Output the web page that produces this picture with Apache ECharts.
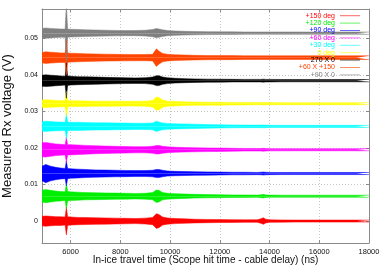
<!DOCTYPE html>
<html>
<head>
<meta charset="utf-8">
<script src="https://cdn.jsdelivr.net/npm/echarts@6/dist/echarts.min.js"></script>
<style>html,body{margin:0;padding:0;background:#fff}#c{width:382px;height:267px}</style>
</head>
<body>
<div id="c"></div>
<script>
// Sample times (ns) at which the envelope of each trace was read
const times = [4850, 5000, 5200, 5400, 5600, 5780, 5830, 5880, 6000, 6300, 6600, 7000, 7400, 7800, 8200, 8600, 9000, 9300, 9450, 9550, 9700, 9900, 10200, 10600, 11000, 11500, 12000, 12500, 13000, 13500, 13650, 13750, 13850, 14000, 14500, 15000, 15500, 16000, 16500, 17000, 17500, 18000];

// Trace names (legend order) and vertical offsets (V)
const names = ['+150 deg', '+120 deg', '+90 deg', '+60 deg', '+30 deg', '0 deg', '270 X 0', '+60 X +150', '+90 X 0'];
const offsets = [0, 0.0068, 0.0130, 0.0195, 0.0259, 0.0321, 0.0384, 0.0447, 0.0514];
const colors = ['#ff0000', '#00ee00', '#0000ff', '#ff00ff', '#00ffff', '#ffff00', '#000000', '#ff4500', '#808080'];

// Half peak-to-peak envelope of each trace, in mV, at the sample times
const ampRed     = [1.3,1.4,1.3,1.2,1.2,1.1,3.8,1.2,1.1,1.0,0.95,0.9,0.85,0.8,0.75,0.7,0.8,1.0,2.0,1.8,1.1,0.85,0.7,0.6,0.5,0.45,0.4,0.38,0.35,0.35,0.6,0.9,0.5,0.35,0.3,0.28,0.28,0.28,0.28,0.28,0.28,0.28];
const ampGreen   = [1.6,1.8,1.6,1.4,1.3,1.2,3.4,1.3,1.2,1.1,1.0,0.95,0.9,0.85,0.8,0.75,0.8,1.0,1.7,1.6,1.0,0.8,0.7,0.6,0.5,0.45,0.4,0.35,0.35,0.3,0.4,0.5,0.35,0.3,0.28,0.28,0.28,0.28,0.28,0.28,0.28,0.28];
const ampBlue    = [2.0,2.5,2.0,1.7,1.5,1.4,3.4,1.4,1.3,1.2,1.1,1.0,0.95,0.9,0.85,0.8,0.8,0.9,1.1,1.1,0.9,0.7,0.6,0.55,0.5,0.45,0.4,0.35,0.35,0.3,0.35,0.4,0.35,0.3,0.28,0.28,0.28,0.28,0.28,0.28,0.28,0.28];
const ampMagenta = [1.9,2.0,1.8,1.6,1.5,1.4,3.4,1.4,1.4,1.3,1.2,1.1,1.0,0.95,0.9,0.85,0.85,0.95,1.15,1.15,0.95,0.8,0.7,0.6,0.55,0.5,0.45,0.4,0.35,0.35,0.35,0.4,0.35,0.3,0.3,0.28,0.28,0.28,0.28,0.28,0.28,0.28];
const ampCyan    = [1.3,1.4,1.3,1.2,1.2,1.1,3.4,1.2,1.1,1.1,1.05,1.0,1.0,0.95,0.9,0.85,0.85,0.95,1.4,1.2,0.95,0.8,0.7,0.65,0.6,0.5,0.45,0.4,0.35,0.35,0.35,0.4,0.35,0.3,0.28,0.28,0.28,0.28,0.28,0.28,0.28,0.28];
const ampYellow  = [1.0,1.05,1.0,0.9,0.9,0.8,3.4,0.9,0.8,0.8,0.75,0.7,0.7,0.7,0.65,0.65,0.7,0.9,1.8,1.7,1.0,0.7,0.6,0.5,0.45,0.42,0.4,0.35,0.35,0.3,0.3,0.35,0.3,0.3,0.28,0.28,0.28,0.28,0.28,0.28,0.28,0.28];
const ampBlack   = [1.5,1.6,1.5,1.4,1.3,1.2,4.8,1.3,1.2,1.1,1.05,1.0,0.9,0.85,0.8,0.75,0.8,1.0,1.35,1.35,1.0,0.8,0.65,0.55,0.48,0.42,0.4,0.36,0.35,0.35,0.35,0.4,0.35,0.35,0.32,0.32,0.32,0.32,0.32,0.32,0.32,0.32];
const ampOrange  = [1.4,1.6,1.5,1.4,1.3,1.3,4.8,1.3,1.2,1.15,1.05,1.0,0.95,0.9,0.88,0.85,0.85,0.9,2.4,1.8,1.15,0.9,0.8,0.7,0.62,0.58,0.55,0.55,0.5,0.5,0.5,0.5,0.5,0.5,0.5,0.5,0.5,0.5,0.5,0.5,0.5,0.5];
const ampGray    = [1.3,1.4,1.3,1.2,1.15,1.1,8.0,1.1,1.05,1.0,0.9,0.85,0.8,0.75,0.7,0.7,0.8,1.0,1.25,1.15,0.9,0.7,0.6,0.5,0.45,0.4,0.36,0.35,0.32,0.32,0.32,0.32,0.32,0.32,0.32,0.32,0.32,0.32,0.32,0.32,0.32,0.32];
const amps = [ampRed, ampGreen, ampBlue, ampMagenta, ampCyan, ampYellow, ampBlack, ampOrange, ampGray];

// Tick labels
const xTicks = [6000, 8000, 10000, 12000, 14000, 16000, 18000];
const yTicks = [0, 0.01, 0.02, 0.03, 0.04, 0.05];

const FONT = 'Liberation Sans';
const frame = '#8a8a8a';

const series = [];
names.forEach(function (name, i) {
  const off = offsets[i];
  [1, -1].forEach(function (sgn) {
    series.push({
      type: 'line',
      name: name,
      xAxisIndex: 0, yAxisIndex: 0,
      data: times.map(function (t, k) { return [t, off + sgn * amps[i][k] / 1000]; }),
      showSymbol: false,
      symbol: 'none',
      silent: true,
      animation: false,
      color: colors[i],
      lineStyle: { width: 0.5, color: colors[i] },
      areaStyle: { color: colors[i], opacity: 1, origin: off }
    });
  });
});

const plainNum = function (v) { return String(Math.round(v * 1000) / 1000); };

const option = {
  animation: false,
  backgroundColor: '#fff',
  grid: { left: 42, right: 13, top: 9, bottom: 24, containLabel: false, outerBoundsMode: 'none' },
  legend: {
    orient: 'vertical',
    right: 22, top: 12,
    align: 'right',
    icon: 'rect',
    itemWidth: 20, itemHeight: 1,
    itemGap: 0,
    padding: 0,
    selectedMode: false,
    textStyle: { fontFamily: FONT, fontSize: 7, lineHeight: 7.4 },
    data: names.map(function (n, i) { return { name: n, textStyle: { color: colors[i] }, itemStyle: { opacity: 0.6 } }; })
  },
  xAxis: [{
    type: 'value', position: 'bottom', min: 4850, max: 18000,
    name: 'In-ice travel time (Scope hit time - cable delay) (ns)',
    nameLocation: 'middle', nameGap: 12, nameMoveOverlap: false,
    nameTextStyle: { fontFamily: FONT, fontSize: 10, color: '#111' },
    axisLine: { show: true, onZero: false, lineStyle: { color: frame, width: 1 } },
    axisTick: { show: true, inside: true, length: 3, customValues: xTicks, lineStyle: { color: frame } },
    axisLabel: { customValues: xTicks, fontFamily: FONT, fontSize: 7.5, color: '#111', margin: 5, formatter: plainNum },
    splitLine: { show: true, lineStyle: { color: '#c8c8c8', type: [1, 2], width: 1 } }
  }, {
    type: 'value', position: 'top', min: 4850, max: 18000,
    axisLine: { show: true, onZero: false, lineStyle: { color: frame, width: 1 } },
    axisTick: { show: true, inside: true, length: 3, customValues: xTicks, lineStyle: { color: frame } },
    axisLabel: { show: false },
    splitLine: { show: false }
  }],
  yAxis: [{
    type: 'value', position: 'left', min: -0.006, max: 0.058,
    name: 'Measured Rx voltage (V)',
    nameLocation: 'middle', nameGap: 26, nameRotate: 90,
    nameTextStyle: { fontFamily: FONT, fontSize: 13, color: '#111' },
    axisLine: { show: true, onZero: false, lineStyle: { color: frame, width: 1 } },
    axisTick: { show: true, inside: true, length: 3, customValues: yTicks, lineStyle: { color: frame } },
    axisLabel: { customValues: yTicks, fontFamily: FONT, fontSize: 7, color: '#111', margin: 4, formatter: plainNum },
    splitLine: { show: true, lineStyle: { color: '#c8c8c8', type: [1, 2], width: 1 } }
  }, {
    type: 'value', position: 'right', min: -0.006, max: 0.058,
    axisLine: { show: true, onZero: false, lineStyle: { color: frame, width: 1 } },
    axisTick: { show: true, inside: true, length: 3, customValues: yTicks, lineStyle: { color: frame } },
    axisLabel: { show: false },
    splitLine: { show: false }
  }],
  series: series
};

const chart = echarts.init(document.getElementById('c'), null, { renderer: 'canvas' });
chart.setOption(option);
</script>
</body>
</html>
